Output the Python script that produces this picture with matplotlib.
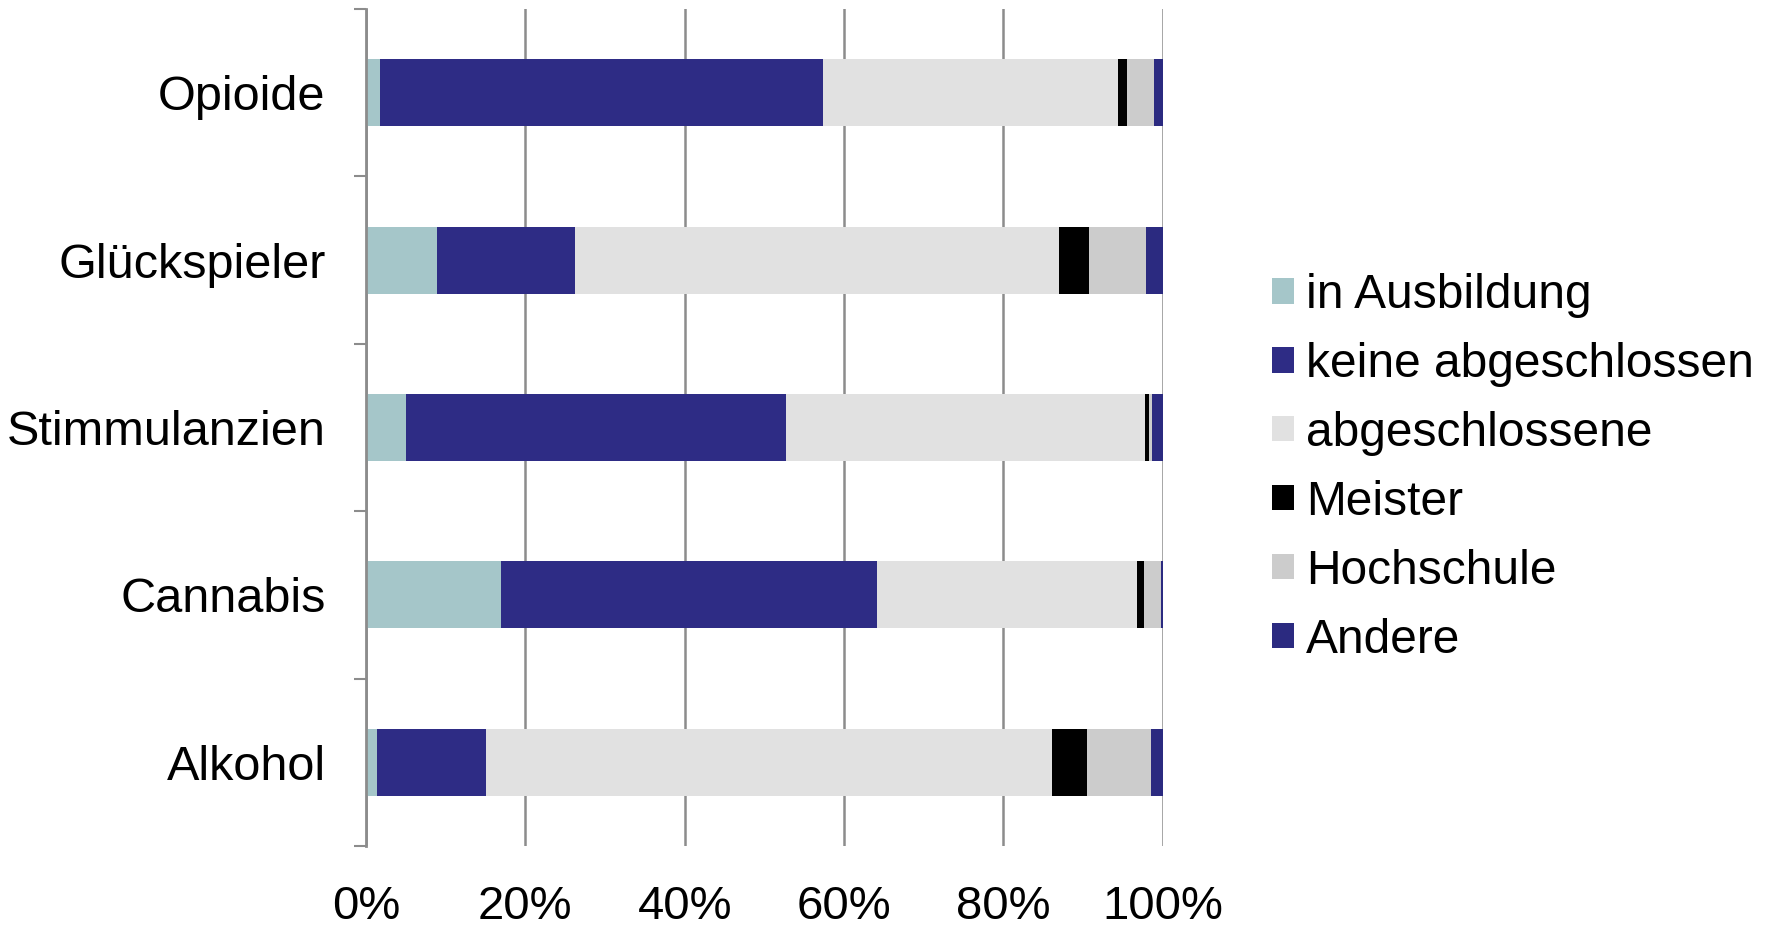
import numpy as np
from matplotlib import pyplot as plt
from matplotlib.patches import Patch

plt.rcParams['font.family'] = ['Liberation Sans', 'DejaVu Sans']

categories = ['Opioide', 'Glückspieler', 'Stimmulanzien', 'Cannabis', 'Alkohol']
series_names = ['in Ausbildung', 'keine abgeschlossen', 'abgeschlossene',
                'Meister', 'Hochschule', 'Andere']

# values in percent, one list per series (order of categories above)
in_ausbildung = [1.7, 8.9, 5.0, 16.9, 1.4]
keine_abgeschlossen = [55.7, 17.3, 47.7, 47.2, 13.7]
abgeschlossene = [37.0, 60.8, 45.1, 32.7, 71.0]
meister = [1.1, 3.8, 0.5, 0.9, 4.4]
hochschule = [3.4, 7.1, 0.4, 2.1, 8.0]
andere = [1.1, 2.1, 1.3, 0.2, 1.5]

colors = ['#A5C6C9', '#2E2C85', '#E1E1E1', '#000000', '#CCCCCC', '#2B2A80']

data = [in_ausbildung, keine_abgeschlossen, abgeschlossene, meister, hochschule, andere]

fig = plt.figure(figsize=(17.73, 9.27), dpi=100)
ax = fig.add_axes([366/1773, 1-846/927, (1162.7-366)/1773, (846-9)/927])

y = np.arange(len(categories))
left = np.zeros(len(categories))
for vals, col, name in zip(data, colors, series_names):
    vals = np.array(vals)
    ax.barh(y, vals, left=left, height=0.4, color=col, label=name, zorder=3)
    left += vals

ax.set_xlim(0, 100)
ax.set_ylim(len(categories)-0.5, -0.5)

ax.set_xticks(np.arange(0, 101, 20))
ax.set_xticklabels([f'{v}%' for v in range(0, 101, 20)])
ax.xaxis.grid(True, color='#8C8C8C', lw=1.8, zorder=0)

ax.set_yticks(y)
ax.set_yticklabels(categories)
ax.set_yticks(np.arange(-0.5, len(categories), 1.0), minor=True)
ax.tick_params(axis='y', which='major', length=0, pad=29, labelsize=35)
ax.tick_params(axis='y', which='minor', length=9, width=1.5, color='#8C8C8C')
ax.tick_params(axis='x', length=0, pad=28, labelsize=34)

for s in ['top', 'right', 'bottom']:
    ax.spines[s].set_visible(False)
ax.spines['left'].set_color('#8C8C8C')
ax.spines['left'].set_linewidth(2)
ax.spines['left'].set_zorder(4)

handles = [Patch(facecolor=c, edgecolor='none') for c in colors]
fig.legend(handles, series_names, loc='center left', bbox_to_anchor=(0.704, 0.4955),
           frameon=False, fontsize=34.5, handlelength=0.45, handleheight=0.45,
           handletextpad=0.26, labelspacing=0.5, borderpad=0)

fig.savefig('out.png', dpi=100)
